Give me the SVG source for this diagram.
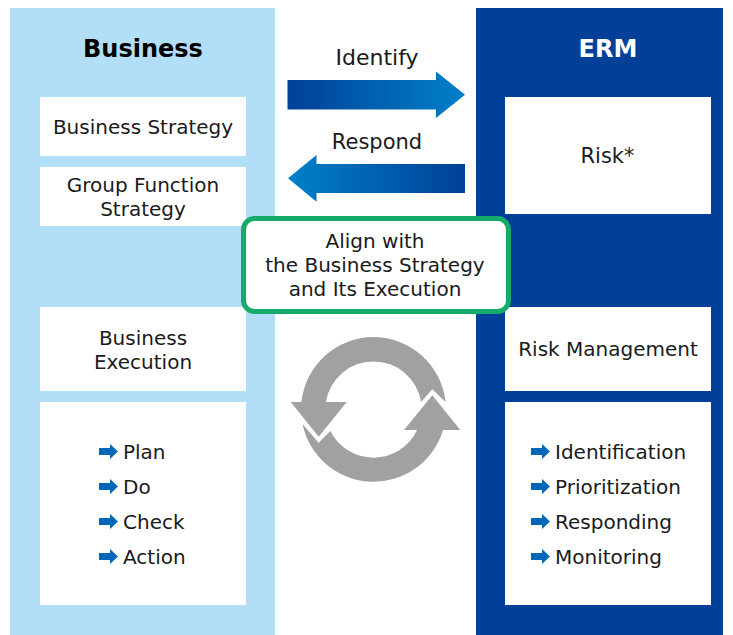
<svg xmlns="http://www.w3.org/2000/svg" width="733" height="635" viewBox="0 0 733 635">
<style>
text{font-family:"DejaVu Sans",Verdana,sans-serif;font-size:20px;fill:#1a1a1a;text-anchor:middle}
.l{text-anchor:start}
.t{font-size:24px;font-weight:700}
.m{font-size:21px}
.box{fill:#fff}
.ring{fill:#a0a2a1}
</style>
<defs>
<linearGradient id="gr"><stop offset="0" stop-color="#004098"/><stop offset="1" stop-color="#0080c8"/></linearGradient>
<linearGradient id="gl"><stop offset="0" stop-color="#0080c8"/><stop offset="1" stop-color="#004098"/></linearGradient>
<path id="mini" d="M0 4H11V0L19 7.500L11 15V11H0Z" fill="#0068b7"/>
</defs>
<g id="business">
<rect x="10" y="8" width="265" height="627" fill="#b2dff7"/>
<text class="t" x="143" y="57" style="fill:#000">Business</text>
</g>
<g id="erm">
<rect x="476" y="8" width="247" height="627" fill="#004098"/>
<text class="t" x="608" y="57" style="fill:#fff">ERM</text>
</g>
<g id="business-strategy"><rect class="box" x="40" y="97" width="206" height="59"/><text x="143" y="134">Business Strategy</text></g>
<g id="group-function"><rect class="box" x="40" y="167" width="206" height="59"/><text x="143" y="192">Group Function</text><text x="143" y="216">Strategy</text></g>
<g id="business-execution"><rect class="box" x="40" y="307" width="206" height="84"/><text x="143" y="345">Business</text><text x="143" y="369">Execution</text></g>
<g id="pdca"><rect class="box" x="40" y="402" width="206" height="203"/>
<use href="#mini" x="99" y="444"/><text class="l" x="123" y="459">Plan</text>
<use href="#mini" x="99" y="479"/><text class="l" x="123" y="494">Do</text>
<use href="#mini" x="99" y="514"/><text class="l" x="123" y="529">Check</text>
<use href="#mini" x="99" y="549"/><text class="l" x="123" y="564">Action</text></g>
<g id="risk"><rect class="box" x="505" y="97" width="206" height="117"/><text class="m" x="607.500" y="163">Risk*</text></g>
<g id="risk-management"><rect class="box" x="505" y="307" width="206" height="84"/><text x="608" y="356">Risk Management</text></g>
<g id="erm-steps"><rect class="box" x="505" y="402" width="206" height="203"/>
<use href="#mini" x="531" y="444"/><text class="l" x="555" y="459">Identification</text>
<use href="#mini" x="531" y="479"/><text class="l" x="555" y="494">Prioritization</text>
<use href="#mini" x="531" y="514"/><text class="l" x="555" y="529">Responding</text>
<use href="#mini" x="531" y="549"/><text class="l" x="555" y="564">Monitoring</text></g>
<g id="connectors">
<path d="M287.500 80H436V71.500L465 94.700L436 118V109.500H287.500Z" fill="url(#gr)"/>
<path d="M465 164H316.500V155L288 178.300L316.500 201.700V193H465Z" fill="url(#gl)"/>
<text x="377" y="65" style="font-size:22px">Identify</text>
<text class="m" x="377" y="149">Respond</text>
</g>
<g id="align"><rect x="243.500" y="218.500" width="265" height="93" rx="11" fill="#fff" stroke="#17ab6b" stroke-width="5"/>
<text x="375" y="248">Align with</text><text x="375" y="272">the Business Strategy</text><text x="375" y="296">and Its Execution</text></g>
<g id="cycle">
<path class="ring" d="M301.400 402A72.500 72.500 0 0 1 445.600 402L432.300 389.300L421.100 402A48.200 48.200 0 0 0 325.900 402Z"/>
<path class="ring" d="M290.700 402H346.700L318.700 436.700Z"/>
<path class="ring" d="M443 430A72.500 72.500 0 0 1 302.500 424L318.700 442.700L330.400 431A48.200 48.200 0 0 0 417.100 430Z"/>
<path class="ring" d="M404 430H460.300L432.300 395.300Z"/>
</g>
</svg>
